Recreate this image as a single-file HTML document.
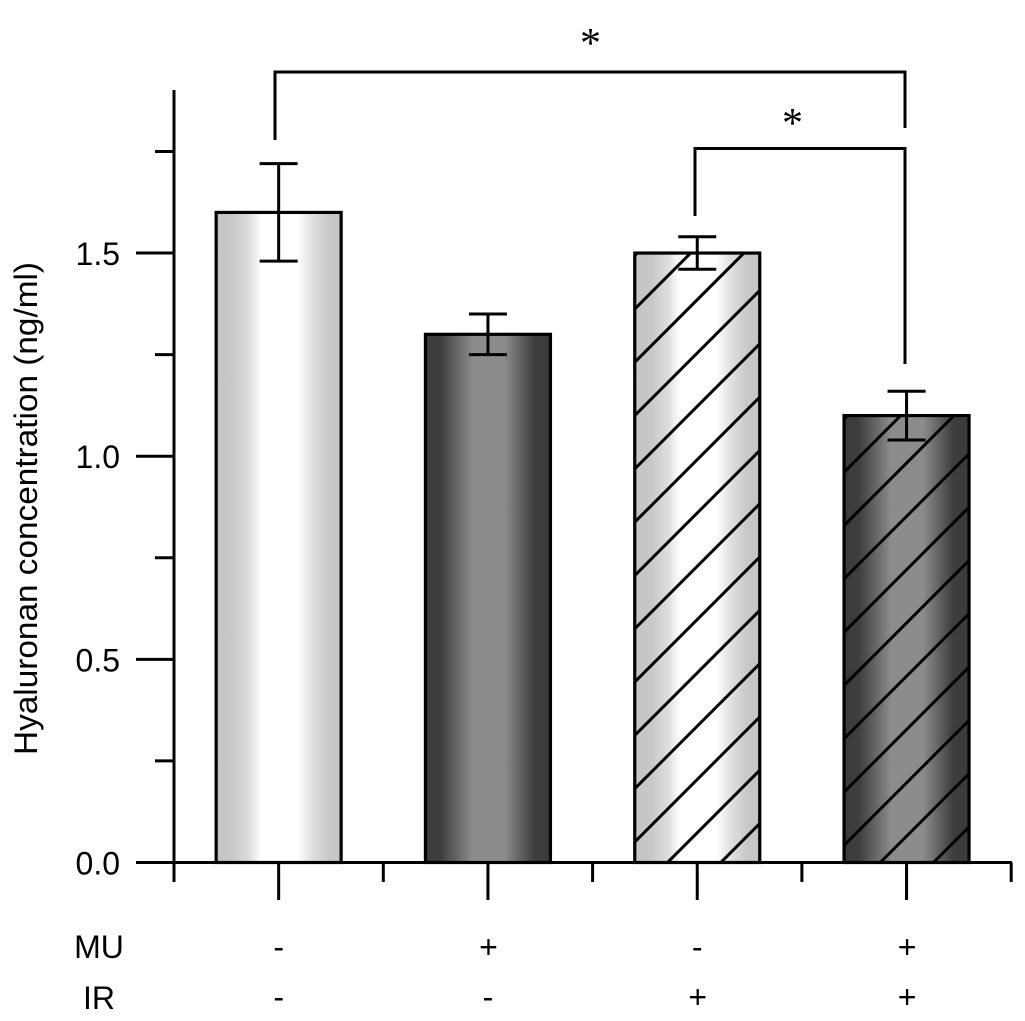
<!DOCTYPE html>
<html>
<head>
<meta charset="utf-8">
<style>
html,body{margin:0;padding:0;background:#fff;}
svg{display:block;}
text{font-family:"Liberation Sans",Arial,sans-serif;font-size:32px;fill:#000;}
</style>
</head>
<body>
<svg id="chart" xmlns="http://www.w3.org/2000/svg" width="1025" height="1021" viewBox="0 0 1025 1021">
  <defs>
    <linearGradient id="light-fill" x1="0" y1="0" x2="1" y2="0">
      <stop offset="0" stop-color="#c4c4c4"/>
      <stop offset="0.13" stop-color="#c8c8c8"/>
      <stop offset="0.27" stop-color="#dedede"/>
      <stop offset="0.36" stop-color="#ffffff"/>
      <stop offset="0.65" stop-color="#ffffff"/>
      <stop offset="0.76" stop-color="#e2e2e2"/>
      <stop offset="0.9" stop-color="#c8c8c8"/>
      <stop offset="1" stop-color="#c4c4c4"/>
    </linearGradient>
    <linearGradient id="dark-fill" x1="0" y1="0" x2="1" y2="0">
      <stop offset="0" stop-color="#3a3a3a"/>
      <stop offset="0.12" stop-color="#3e3e3e"/>
      <stop offset="0.38" stop-color="#8c8c8c"/>
      <stop offset="0.63" stop-color="#8c8c8c"/>
      <stop offset="0.87" stop-color="#3e3e3e"/>
      <stop offset="1" stop-color="#3a3a3a"/>
    </linearGradient>
  </defs>
  <g id="bars"></g>
  <g id="axes"></g>
  <g id="errors"></g>
  <g id="labels"></g>
  <text transform="translate(37,755) rotate(-90)" textLength="493" lengthAdjust="spacingAndGlyphs">Hyaluronan concentration (ng/ml)</text>
  <text x="99" y="958" text-anchor="middle">MU</text>
  <text x="99" y="1009" text-anchor="middle">IR</text>
  <path d="M275 140V72H905V128" fill="none" stroke="#000" stroke-width="3"/>
  <path d="M695 216V148.5H905V364" fill="none" stroke="#000" stroke-width="3"/>
  <text x="590.5" y="57" text-anchor="middle" style="font-family:'Liberation Serif',serif;font-size:42px">*</text>
  <text x="792.5" y="137" text-anchor="middle" style="font-family:'Liberation Serif',serif;font-size:42px">*</text>
</svg>
<script>
var groups = ["MU- IR-", "MU+ IR-", "MU- IR+", "MU+ IR+"];
var means = [1.6, 1.3, 1.5, 1.1];
var errorUpper = [1.72, 1.35, 1.54, 1.16];
var errorLower = [1.48, 1.25, 1.46, 1.04];
var fills = ["light-fill", "dark-fill", "light-fill", "dark-fill"];
var hatched = [false, false, true, true];
var yMajorTicks = [0, 0.5, 1, 1.5];
var yMajorLabels = ["0.0", "0.5", "1.0", "1.5"];
var yMinorTicks = [0.25, 0.75, 1.25, 1.75];
var muRow = ["-", "+", "-", "+"];
var irRow = ["-", "-", "+", "+"];

var NS = "http://www.w3.org/2000/svg";
var Y0 = 862.5, PX_PER_UNIT = 406.3, X0 = 174, STEP = 209.3, BAR_W = 125;
function yScale(v) { return Y0 - v * PX_PER_UNIT; }
function xCenter(i) { return X0 + STEP * (i + 0.5); }
function make(tag, attrs, parent) {
  var el = document.createElementNS(NS, tag);
  for (var k in attrs) el.setAttribute(k, attrs[k]);
  parent.appendChild(el);
  return el;
}
function line(x1, y1, x2, y2, width, parent) {
  return make("line", {x1: x1, y1: y1, x2: x2, y2: y2, stroke: "#000", "stroke-width": width}, parent);
}
var svg = document.getElementById("chart");
var defs = svg.querySelector("defs");
var gBars = document.getElementById("bars");
var gAxes = document.getElementById("axes");
var gErr = document.getElementById("errors");
var gLab = document.getElementById("labels");

groups.forEach(function (g, i) {
  var cx = xCenter(i), x = cx - BAR_W / 2, top = yScale(means[i]);
  var fill = make("rect", {x: x, y: top, width: BAR_W, height: Y0 - top, fill: "url(#" + fills[i] + ")"}, gBars);
  
  
  if (hatched[i]) {
    var clip = make("clipPath", {id: "clip-" + i}, defs);
    make("rect", {x: x, y: top, width: BAR_W, height: Y0 - top}, clip);
    var h = make("g", {"clip-path": "url(#clip-" + i + ")"}, gBars);
    
    
    var base = (i === 2) ? 1530 : 1796;
    for (var k = -2; k < 30; k++) {
      var c = base - 53.3 * k;
      line(x - 5, c - (x - 5), x + BAR_W + 5, c - (x + BAR_W + 5), 3, h);
    }
  }
  var outline = make("rect", {x: x, y: top, width: BAR_W, height: Y0 - top, fill: "none", stroke: "#000", "stroke-width": 3.2}, gBars);
  
  

  var err = make("g", {}, gErr);
  
  
  var yu = yScale(errorUpper[i]), yl = yScale(errorLower[i]);
  line(cx, yu, cx, yl, 3, err);
  line(cx - 19, yu, cx + 19, yu, 3, err);
  line(cx - 19, yl, cx + 19, yl, 3, err);

  var mu = make("text", {x: cx + (muRow[i] === "+" ? 0.5 : 0), y: 958, "text-anchor": "middle"}, gLab);
  mu.textContent = muRow[i];
  
  
  var ir = make("text", {x: cx + (irRow[i] === "+" ? 0.5 : 0), y: 1008, "text-anchor": "middle"}, gLab);
  ir.textContent = irRow[i];
  
  
});

var yAxis = line(X0, 90, X0, Y0, 3, gAxes);


var xAxis = line(136, Y0, 1012, Y0, 3, gAxes);



yMajorTicks.forEach(function (v, i) {
  var t = line(136, yScale(v), X0, yScale(v), 3, gAxes);
  
  
  var l = make("text", {x: 120, y: yScale(v) + 12, "text-anchor": "end"}, gLab);
  l.textContent = yMajorLabels[i];
  
  
});
yMinorTicks.forEach(function (v) {
  var t = line(155, yScale(v), X0, yScale(v), 3, gAxes);
  
  
});
groups.forEach(function (g, i) {
  var maj = line(xCenter(i), Y0, xCenter(i), 900, 3, gAxes);
  
  
});
for (var e = 0; e <= groups.length; e++) {
  var edge = X0 + STEP * e;
  var m = line(edge, Y0, edge, 882, 3, gAxes);
  
  
}
</script>
</body>
</html>
